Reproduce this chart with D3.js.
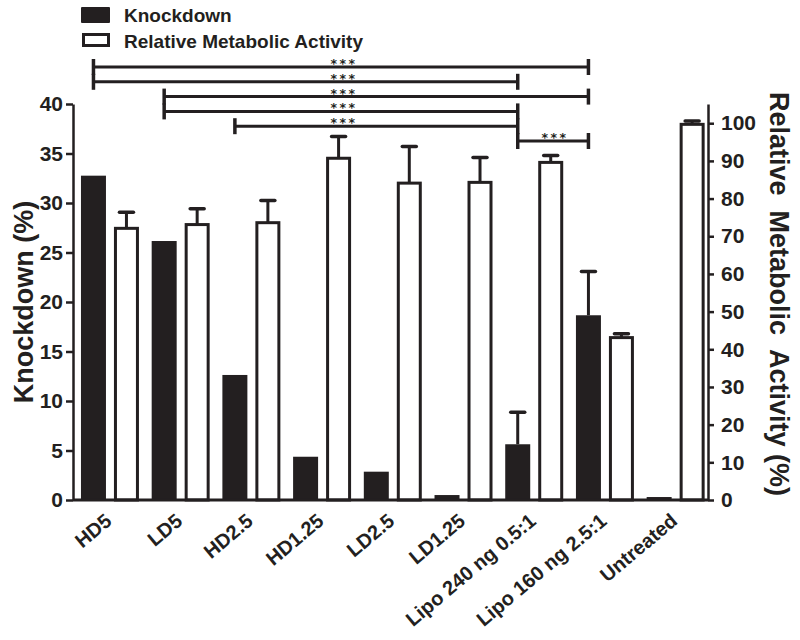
<!DOCTYPE html>
<html><head><meta charset="utf-8">
<script src="https://cdn.jsdelivr.net/npm/d3@7"></script>
<style>
html,body{margin:0;padding:0;background:#fff;}
svg{display:block;}
text{font-family:"Liberation Sans",Arial,Helvetica,sans-serif;font-weight:bold;fill:#231f20;}
</style></head>
<body>
<svg id="chart" width="800" height="640"></svg>
<script>
const categories = ["HD5","LD5","HD2.5","HD1.25","LD2.5","LD1.25","Lipo 240 ng 0.5:1","Lipo 160 ng 2.5:1","Untreated"];
const knockdown = [32.76, 26.16, 12.63, 4.37, 2.86, 0.5, 5.63, 18.66, 0.3];
const knockdownErr = [null, null, null, null, null, null, 8.87, 23.08, null];
const metabolic = [72.1, 73.1, 73.6, 90.7, 84.1, 84.3, 89.6, 43.1, 99.7];
const metabolicErr = [76.4, 77.3, 79.5, 96.5, 93.8, 90.9, 91.4, 44.1, 100.6];
const leftTicks = [0,5,10,15,20,25,30,35,40];
const rightTicks = [0,10,20,30,40,50,60,70,80,90,100];
const seriesNames = ["Knockdown","Relative Metabolic Activity"];
// significance brackets: category index pairs
const brackets = [
  {from:0, to:7, label:"***"},
  {from:0, to:6, label:"***"},
  {from:1, to:7, label:"***"},
  {from:1, to:6, label:"***"},
  {from:2, to:6, label:"***"},
  {from:6, to:7, label:"***"}
];

const ink = "#231f20";
const svg = d3.select("#chart");
const axisLeftX = 73, axisRightX = 708, baseY = 500, topY = 104;

const x = d3.scaleBand().domain(categories).range([74.6, 711]).paddingInner(0.18).paddingOuter(0.09);
const x1 = d3.scaleBand().domain(["k","m"]).range([0, x.bandwidth()]).paddingInner(0.2424).paddingOuter(0);
const yL = d3.scaleLinear().domain([0,40]).range([baseY, topY]);
const yR = d3.scaleLinear().domain([0,105.1]).range([baseY, topY]);

const data = categories.map((c,i)=>({c, k:knockdown[i], ke:knockdownErr[i], m:metabolic[i], me:metabolicErr[i]}));

// bars
const g = svg.append("g");
const grp = g.selectAll("g.grp").data(data).join("g").attr("class","grp")
  .attr("transform", d=>`translate(${x(d.c)},0)`);

// error bars (drawn behind bars)
const capW = 14;
grp.filter(d=>d.ke!=null).each(function(d){
  const cx = x1("k") + x1.bandwidth()/2;
  const s = d3.select(this);
  s.append("line").attr("x1",cx).attr("x2",cx).attr("y1",yL(d.k)).attr("y2",yL(d.ke)).attr("stroke",ink).attr("stroke-width",3);
  s.append("line").attr("x1",cx-capW/2).attr("x2",cx+capW/2).attr("y1",yL(d.ke)).attr("y2",yL(d.ke)).attr("stroke",ink).attr("stroke-width",3.5).attr("stroke-linecap","round");
});
grp.filter(d=>d.me!=null).each(function(d){
  const cx = x1("m") + x1.bandwidth()/2;
  const s = d3.select(this);
  s.append("line").attr("x1",cx).attr("x2",cx).attr("y1",yR(d.m)).attr("y2",yR(d.me)).attr("stroke",ink).attr("stroke-width",3);
  s.append("line").attr("x1",cx-capW/2).attr("x2",cx+capW/2).attr("y1",yR(d.me)).attr("y2",yR(d.me)).attr("stroke",ink).attr("stroke-width",3.5).attr("stroke-linecap","round");
});

grp.append("rect")
  .attr("x", x1("k")).attr("width", x1.bandwidth())
  .attr("y", d=>yL(d.k)).attr("height", d=>yL(0)-yL(d.k))
  .attr("fill", ink);
grp.append("rect")
  .attr("x", x1("m")+1.5).attr("width", x1.bandwidth()-3)
  .attr("y", d=>yR(d.m)).attr("height", d=>yR(0)-yR(d.m))
  .attr("fill", "#fff").attr("stroke", ink).attr("stroke-width", 3);

// axes
const axL = svg.append("g").attr("transform",`translate(${axisLeftX},0)`)
  .call(d3.axisLeft(yL).tickValues(leftTicks).tickSize(7).tickSizeOuter(0).tickPadding(3));
const axR = svg.append("g").attr("transform",`translate(${axisRightX},0)`)
  .call(d3.axisRight(yR).tickValues(rightTicks).tickSize(6).tickSizeOuter(0).tickPadding(7));
[axL, axR].forEach(a=>{
  a.selectAll("path,line").attr("stroke",ink).attr("stroke-width",2.5);
  a.selectAll("text").style("font-size","21px").attr("fill",ink)
    .style("font-family",'"Liberation Sans",Arial,sans-serif').style("font-weight","bold");
});

// baseline
svg.append("line").attr("x1",axisLeftX).attr("x2",axisRightX).attr("y1",baseY).attr("y2",baseY)
  .attr("stroke",ink).attr("stroke-width",3);

// category labels
const axB = svg.append("g").attr("transform",`translate(0,${baseY})`)
  .call(d3.axisBottom(x).tickSize(0));
axB.select(".domain").remove();
axB.selectAll("text")
  .attr("x",0).attr("y",0).attr("dy",0)
  .attr("text-anchor","end")
  .attr("transform","translate(3,23) rotate(-40)")
  .style("font-size","20px").attr("fill",ink)
  .style("font-family",'"Liberation Sans",Arial,sans-serif').style("font-weight","bold");

// axis titles
svg.append("text").attr("transform",`translate(33,${(baseY+topY)/2}) rotate(-90)`)
  .attr("text-anchor","middle").style("font-size","27px").text("Knockdown (%)");
svg.append("text").attr("transform",`translate(770,${(baseY+topY)/2 - 8}) rotate(90)`)
  .attr("text-anchor","middle").style("font-size","27px").style("white-space","pre")
  .attr("xml:space","preserve")
  .text("Relative  Metabolic  Activity (%)");

// significance brackets
const kCenter = i => x(categories[i]) + x1("k") + x1.bandwidth()/2;
const level = d3.scaleLinear().domain([0, brackets.length-1]).range([67, 141]);
const sharedMid = (kCenter(brackets[0].from) + kCenter(brackets[0].to))/2;
const bg = svg.append("g");
brackets.forEach((b,i)=>{
  const yy = level(i), xa = kCenter(b.from), xb = kCenter(b.to);
  bg.append("line").attr("x1",xa).attr("x2",xb).attr("y1",yy).attr("y2",yy).attr("stroke",ink).attr("stroke-width",3);
  [xa,xb].forEach(xx=>bg.append("line").attr("x1",xx).attr("x2",xx).attr("y1",yy-8).attr("y2",yy+8).attr("stroke",ink).attr("stroke-width",3.5));
  const lx = i < brackets.length-1 ? sharedMid + 3 : (xa+xb)/2 + 2;
  bg.append("text").attr("x",lx).attr("y",yy+1).attr("text-anchor","middle")
    .style("font-family",'"DejaVu Sans",sans-serif')
    .style("font-size","12.5px").style("letter-spacing","2.5px").text(b.label);
});

// legend
const lg = svg.append("g");
seriesNames.forEach((n,i)=>{
  const ly = 7 + i*26;
  if(i===0){
    lg.append("rect").attr("x",81).attr("y",ly).attr("width",29).attr("height",16).attr("fill",ink).attr("rx",1);
  } else {
    lg.append("rect").attr("x",83.5).attr("y",ly+1.5).attr("width",25).attr("height",11).attr("fill","#fff").attr("stroke",ink).attr("stroke-width",3);
  }
  lg.append("text").attr("x",124).attr("y",ly+15).style("font-size","19px").text(n);
});
</script>
</body></html>
